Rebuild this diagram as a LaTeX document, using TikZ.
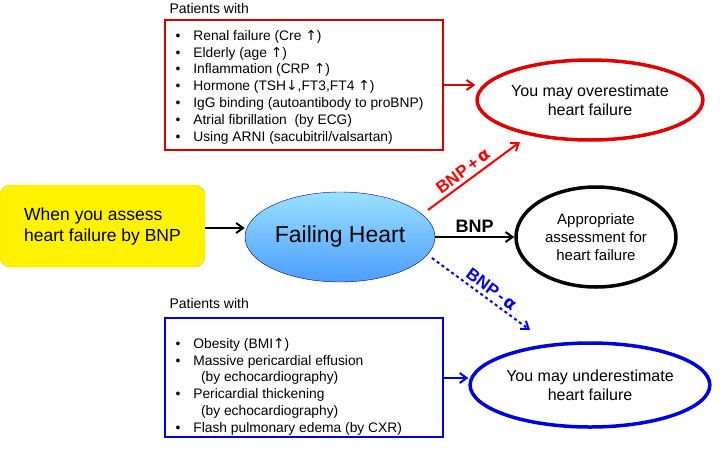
\documentclass[tikz,border=0pt]{standalone}
\usepackage{fontspec}
\setmainfont{Liberation Sans}
\newfontfamily\djsym{DejaVu Sans}
\usetikzlibrary{arrows.meta,shapes.geometric}
\begin{document}
\begin{tikzpicture}[x=1pt,y=-1pt,
  ell/.style={ellipse,draw,line width=3.5pt,align=center,inner sep=1pt},
  arr/.style={-{Straight Barb[length=7pt,width=10pt]},line width=2pt},
  lst/.style={font=\fontsize{13.8}{16.8}\selectfont,align=left,anchor=north west}]
\useasboundingbox (0,0) rectangle (720,453);
\node[anchor=west,font=\fontsize{14}{16}\selectfont] (pt1) at (166,8) {Patients with};
\draw[red!85!black,line width=2.2pt] (165,20) rectangle (443,150);
\node[lst] (l1) at (172,25) {%
\begin{tabular}{@{}l@{\hspace{13pt}}l@{}}
•&Renal failure (Cre {\djsym↑})\\
•&Elderly (age {\djsym↑})\\
•&Inflammation (CRP {\djsym↑})\\
•&Hormone (TSH{\djsym↓},FT3,FT4 {\djsym↑})\\
•&IgG binding (autoantibody to proBNP)\\
•&Atrial fibrillation\ \ (by ECG)\\
•&Using ARNI (sacubitril/valsartan)
\end{tabular}};
\coordinate (rb) at (443,85);
\node[ell,draw=red!90!black,minimum width=186pt,minimum height=80pt,font=\fontsize{16}{19}\selectfont] (oe) at (590,100) {You may overestimate\\heart failure};
\draw[arr,red!90!black] (rb) -- (oe.west |- rb);
\node[draw=yellow!85!black,fill=yellow,rounded corners=10pt,minimum width=205pt,minimum height=82pt,align=left,font=\fontsize{17.5}{21}\selectfont] (ya) at (102.5,226) {When you assess\\heart failure by BNP};
\node[ellipse,draw=blue!50!black,minimum width=190pt,minimum height=90pt,font=\fontsize{23}{26}\selectfont,inner sep=0pt,top color=blue!30!cyan!40,bottom color=blue!55!cyan!70] (fh) at (340,237) {Failing Heart};
\draw[arr] (ya.east |- 0,228) -- (fh.west |- 0,228);
\node[ell,draw=black,minimum width=160pt,minimum height=100pt,font=\fontsize{15}{18}\selectfont] (ap) at (596,237) {Appropriate\\assessment for\\heart failure};
\draw[arr] (fh.east) -- node[above,font=\bfseries\fontsize{18}{20}\selectfont] {BNP} (ap.west);
\coordinate (r1) at (428,210);
\coordinate (r2) at (520,142);
\draw[arr,red] (r1) -- node[sloped,above,pos=0.45,font=\bfseries\fontsize{17}{19}\selectfont,red] {BNP\,+\,{\djsym α}} (r2);
\node[ell,draw=blue!90!black,minimum width=190pt,minimum height=84pt,font=\fontsize{16}{19}\selectfont] (ue) at (590,385) {You may underestimate\\heart failure};
\coordinate (b1) at (432,258);
\coordinate (b2) at (530,330);
\draw[arr,blue,dashed] (b1) -- node[sloped,above,pos=0.55,font=\bfseries\fontsize{17}{19}\selectfont] {BNP\,-\,{\djsym α}} (b2);
\node[anchor=west,font=\fontsize{14}{16}\selectfont] (pt2) at (166,303) {Patients with};
\draw[blue!90!black,line width=2.2pt] (165,318) rectangle (443,437);
\node[lst] (l2) at (172,333) {%
\begin{tabular}{@{}l@{\hspace{13pt}}l@{}}
•&Obesity (BMI{\djsym↑})\\
•&Massive pericardial effusion\\
&\ \ (by echocardiography)\\
•&Pericardial thickening\\
&\ \ (by echocardiography)\\
•&Flash pulmonary edema (by CXR)
\end{tabular}};
\coordinate (bb) at (443,378);
\draw[arr,blue!90!black] (bb) -- (ue.west |- bb);
\end{tikzpicture}
\end{document}
